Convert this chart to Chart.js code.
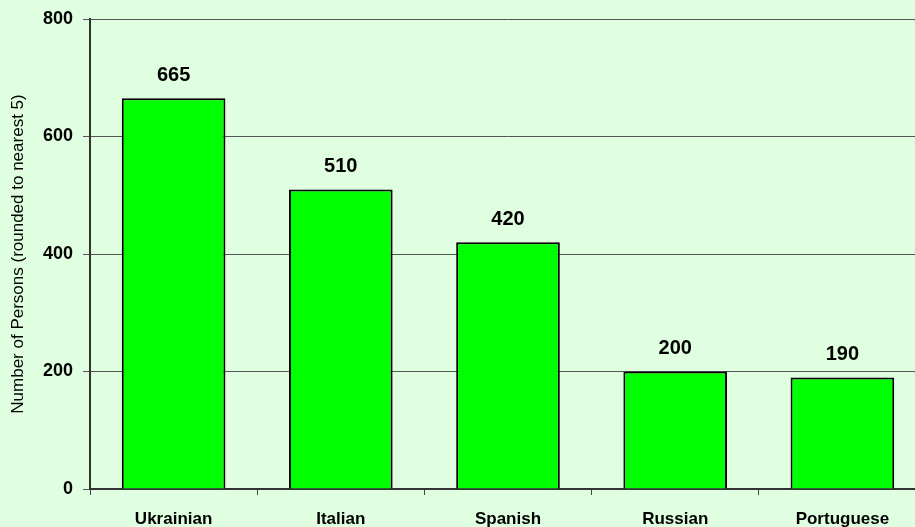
<!DOCTYPE html>
<html>
<head>
<meta charset="utf-8">
<script src="https://cdn.jsdelivr.net/npm/chart.js@4.4.0/dist/chart.umd.min.js"></script>
<style>
  html, body { margin: 0; padding: 0; overflow: hidden; background: #e0ffe0; }
  #wrap { width: 930px; height: 527px; }
</style>
</head>
<body>
<div id="wrap"><canvas id="chart" width="930" height="527"></canvas></div>
<script>
// categories and values
const languages = ['Ukrainian', 'Italian', 'Spanish', 'Russian', 'Portuguese'];
const persons = [665, 510, 420, 200, 190];
const yTicks = [0, 200, 400, 600, 800];

// draws the number above each bar
const barValues = {
    id: 'barValues',
    afterDatasetsDraw(chart) {
        const ctx = chart.ctx;
        const meta = chart.getDatasetMeta(0);
        ctx.save();
        ctx.font = 'bold 20px "Liberation Sans", Arial, sans-serif';
        ctx.fillStyle = '#000';
        ctx.textAlign = 'center';
        ctx.textBaseline = 'middle';
        meta.data.forEach((bar, i) => {
            ctx.fillText(persons[i], bar.x, bar.y - 23);
        });
        ctx.restore();
    }
};

const ctx = document.getElementById('chart').getContext('2d');
const chart = new Chart(ctx, {
    type: 'bar',
    data: {
        labels: languages,
        datasets: [{
            data: persons,
            backgroundColor: '#00ff00',
            borderColor: '#000',
            borderWidth: 2,
            barPercentage: 0.62,
            categoryPercentage: 1
        }]
    },
    options: {
        responsive: false,
        animation: false,
        layout: { padding: { top: 18, right: 4, left: 0, bottom: 0 } },
        plugins: { legend: { display: false }, tooltip: { enabled: false } },
        scales: {
            x: {
                offset: true,
                grid: { offset: true, drawOnChartArea: false, color: '#444', tickLength: 6 },
                border: { color: '#333', width: 2 },
                ticks: {
                    color: '#000',
                    padding: 14,
                    maxRotation: 0,
                    font: { family: '"Liberation Sans", Arial, sans-serif', size: 17, weight: 'bold' }
                },
                afterFit(scale) { scale.height = 38; }
            },
            y: {
                min: 0,
                max: 800,
                afterBuildTicks(scale) { scale.ticks = yTicks.map(v => ({ value: v })); },
                grid: { color: '#555', tickLength: 7 },
                border: { color: '#333', width: 2 },
                ticks: {
                    color: '#000',
                    padding: 10,
                    font: { family: '"Liberation Sans", Arial, sans-serif', size: 18, weight: 'bold', lineHeight: 1 }
                },
                title: {
                    display: true,
                    text: 'Number of Persons (rounded to nearest 5)',
                    color: '#000',
                    padding: { top: 8, bottom: 0 },
                    font: { family: '"Liberation Sans", Arial, sans-serif', size: 17 }
                },
                afterFit(scale) { scale.width = 90; }
            }
        }
    },
    plugins: [barValues]
});
</script>
</body>
</html>
